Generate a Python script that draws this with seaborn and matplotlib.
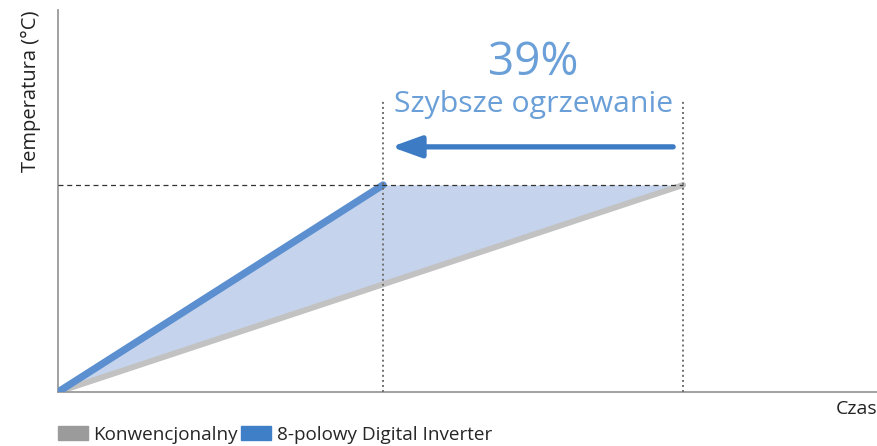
import matplotlib

matplotlib.use("Agg")

import matplotlib.pyplot as plt
import numpy as np
import pandas as pd
import seaborn as sns
from matplotlib.patches import Patch

# time (relative units) and temperature (relative units)
TIME_CONV = [0, 100]
TEMP_CONV = [0, 100]
TIME_INV = [0, 52]
TEMP_INV = [0, 100]
TARGET_TEMP = 100
GAIN_LABEL = "39%"
GAIN_TEXT = "Szybsze ogrzewanie"
SERIES = ["Konwencjonalny", "8-polowy Digital Inverter"]

GRAY_LINE = "#c2c2c2"
GRAY_LEGEND = "#9b9b9b"
BLUE_LINE = "#5b8fd0"
BLUE_LEGEND = "#3f7fc7"
FILL = "#c5d3ec"
ARROW = "#3d7cc4"
TEXT_BLUE = "#6a9fd8"

sns.set_theme(style="white")
plt.rcParams["font.family"] = ["Open Sans", "DejaVu Sans"]

conv = pd.DataFrame({"czas": TIME_CONV, "temp": TEMP_CONV})
inv = pd.DataFrame({"czas": TIME_INV, "temp": TEMP_INV})

fig = plt.figure(figsize=(8.77, 4.46), dpi=100)
ax = fig.add_axes([58 / 877, 54 / 446, 1 - 58 / 877, 382 / 446])
ax.set_xlim(0, 131)
ax.set_ylim(0, 184.5)

# area between both curves
t = np.linspace(0, TIME_CONV[1], 200)
conv_t = np.interp(t, TIME_CONV, TEMP_CONV)
inv_t = np.minimum(np.interp(t, TIME_INV, TEMP_INV, right=TARGET_TEMP), TARGET_TEMP)
ax.fill_between(t, conv_t, inv_t, color=FILL, lw=0, zorder=1)

sns.lineplot(data=conv, x="czas", y="temp", ax=ax, color=GRAY_LINE, lw=4.2, zorder=2)
sns.lineplot(data=inv, x="czas", y="temp", ax=ax, color=BLUE_LINE, lw=5.2, zorder=3)

ax.hlines(TARGET_TEMP, 0, TIME_CONV[1], colors="#333333", linestyles=(0, (4, 3)), lw=0.9, zorder=4)
for x_end in (TIME_INV[1], TIME_CONV[1]):
    ax.vlines(x_end, 0, 141, colors="#707070", linestyles=(0, (1, 1.6)), lw=1.4, zorder=4)

ax.annotate(
    "",
    xy=(TIME_INV[1] + 1.3, 118.4),
    xytext=(TIME_CONV[1] - 1.6, 118.4),
    arrowprops=dict(arrowstyle="-|>,head_length=1.8,head_width=0.65", lw=3.8, color=ARROW, mutation_scale=10, shrinkA=0, shrinkB=0),
    zorder=5,
)
mid = (TIME_INV[1] + TIME_CONV[1]) / 2
ax.text(mid, 159, GAIN_LABEL, ha="center", va="center", fontsize=33, color=TEXT_BLUE)
ax.text(mid, 139, GAIN_TEXT, ha="center", va="center", fontsize=21.8, color=TEXT_BLUE)

ax.set_xticks([])
ax.set_yticks([])
ax.set_xlabel("Czas", loc="right", fontsize=14, color="#222222", labelpad=6)
ax.set_ylabel("Temperatura (°C)", loc="top", fontsize=14.5, color="#222222", labelpad=12)
for side in ("top", "right"):
    ax.spines[side].set_visible(False)
for side in ("left", "bottom"):
    ax.spines[side].set_color("#9a9a9a")
    ax.spines[side].set_linewidth(1.3)

handles = [Patch(color=GRAY_LEGEND), Patch(color=BLUE_LEGEND)]
fig.legend(
    handles, SERIES, loc="lower left", bbox_to_anchor=(50 / 877, -0.012), ncol=2, frameon=False,
    fontsize=13.6, handlelength=1.6, handleheight=0.75, handletextpad=0.3, columnspacing=0.15, borderaxespad=0,
)

fig.savefig("out.png", dpi=100)
